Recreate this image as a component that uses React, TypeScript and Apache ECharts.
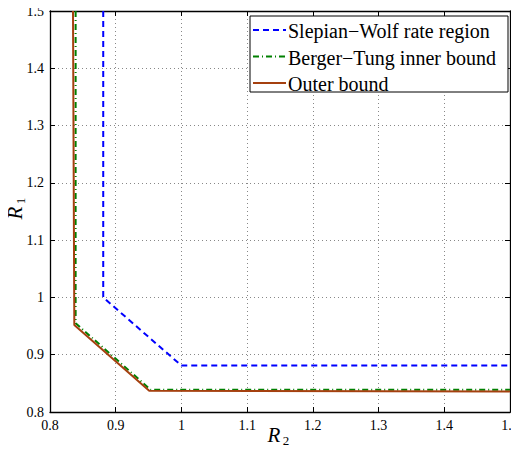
import React, { useEffect, useRef } from "react";
import * as echarts from "echarts";

const xTicks = [0.8, 0.9, 1.0, 1.1, 1.2, 1.3, 1.4, 1.5];
const yTicks = [0.8, 0.9, 1.0, 1.1, 1.2, 1.3, 1.4, 1.5];
const seriesNames = ["Slepian\u2212Wolf rate region", "Berger\u2212Tung inner bound", "Outer bound"];
const slepianWolf: [number, number][] = [[0.881, 1.5], [0.881, 1.0], [1.0, 0.881], [1.5, 0.881]];
const bergerTung: [number, number][] = [[0.839, 1.5], [0.839, 0.955], [0.953, 0.839], [1.5, 0.839]];
const outerBound: [number, number][] = [[0.835, 1.5], [0.837, 0.952], [0.951, 0.837], [1.5, 0.836]];

const FONT = "Liberation Serif";
const COLORS = ["#0000ff", "#008000", "#a5400f"];
const DASHES: (number[] | "solid")[] = [[6, 4], [6, 3, 1, 3], "solid"];

function axisName(sub: string, x: number, y: number, rotation: number) {
  return {
    type: "group",
    x,
    y,
    rotation,
    silent: true,
    children: [
      {
        type: "text",
        x: -4,
        y: 0,
        style: { text: "R", fontFamily: FONT, fontStyle: "italic", fontSize: 21, fill: "#000", align: "center", verticalAlign: "middle" },
      },
      {
        type: "text",
        x: 8,
        y: 5,
        style: { text: sub, fontFamily: FONT, fontSize: 13, fill: "#000", align: "center", verticalAlign: "middle" },
      },
    ],
  };
}

export default function App() {
  const ref = useRef<HTMLDivElement>(null);
  useEffect(() => {
    if (!ref.current) return;
    const chart = echarts.init(ref.current, undefined, { renderer: "svg" });
    const fmt = (v: number) => String(parseFloat(v.toFixed(1)));
    const axisCommon = {
      type: "value" as const,
      min: xTicks[0],
      max: xTicks[xTicks.length - 1],
      interval: 0.1,
      axisLine: { show: true, onZero: false, lineStyle: { color: "#000", width: 1.3 } },
      axisTick: { show: true, inside: true, length: 5, lineStyle: { color: "#000" } },
      axisLabel: { fontFamily: FONT, fontSize: 14, color: "#000", formatter: fmt },
      splitLine: { show: true, lineStyle: { color: "#888", type: [1, 3], width: 1 } },
    };
    const legendRows = seriesNames.map((n, i) => {
      const y = 30 + i * 26.5;
      return [
        {
          type: "line",
          shape: { x1: 253, y1: y, x2: 286, y2: y },
          style: { stroke: COLORS[i], lineWidth: 2, lineDash: DASHES[i] === "solid" ? null : DASHES[i] },
          z: 5,
          silent: true,
        },
        {
          type: "text",
          x: 288,
          y: y + 1,
          style: { text: n, fontFamily: FONT, fontSize: 20, fill: "#000", verticalAlign: "middle" },
          z: 5,
          silent: true,
        },
      ];
    }).flat();
    chart.setOption({
      animation: false,
      backgroundColor: "#fff",
      grid: { left: 50, right: 9, top: 11, bottom: 43, containLabel: false, outerBoundsMode: "none" },
      xAxis: [
        { ...axisCommon, position: "bottom", axisLabel: { ...axisCommon.axisLabel, margin: 6 } },
        { ...axisCommon, position: "top", axisLabel: { show: false }, splitLine: { show: false } },
      ],
      yAxis: [
        {
          ...axisCommon,
          min: yTicks[0],
          max: yTicks[yTicks.length - 1],
          position: "left",
          axisLabel: { ...axisCommon.axisLabel, margin: 6 },
        },
        {
          ...axisCommon,
          min: yTicks[0],
          max: yTicks[yTicks.length - 1],
          position: "right",
          axisLabel: { show: false },
          splitLine: { show: false },
        },
      ],
      graphic: [
        {
          type: "rect",
          shape: { x: 250, y: 16, width: 258, height: 76 },
          style: { fill: "#fff", stroke: "#000", lineWidth: 1 },
          z: 4,
          silent: true,
        },
        ...legendRows,
        axisName("2", 278, 435, 0),
        axisName("1", 15, 209, Math.PI / 2),
      ],
      series: [slepianWolf, bergerTung, outerBound].map((d, i) => ({
        name: seriesNames[i],
        type: "line",
        data: d,
        symbol: "none",
        lineStyle: { color: COLORS[i], width: 2, type: DASHES[i] },
        itemStyle: { color: COLORS[i] },
      })),
    });
    return () => chart.dispose();
  }, []);
  return <div ref={ref} style={{ width: 519, height: 455, margin: -8 }} />;
}
